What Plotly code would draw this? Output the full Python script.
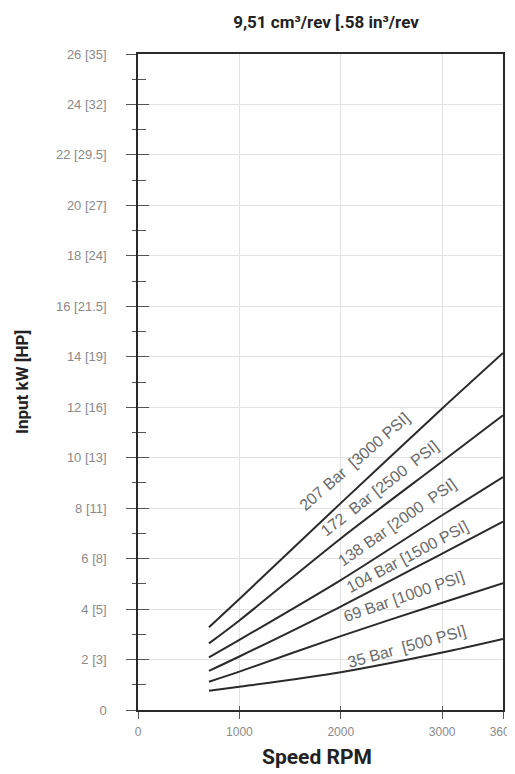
import plotly.graph_objects as go

rpm = [700, 1000, 2000, 3000, 3600]
series_names = ["207 Bar  [3000 PSI]", "172  Bar [2500  PSI]", "138 Bar [2000  PSI]",
                "104 Bar [1500 PSI]", "69 Bar [1000 PSI]", "35 Bar  [500 PSI]"]
kw_207 = [3.28, 4.40, 8.20, 11.95, 14.15]
kw_172 = [2.64, 3.55, 6.80, 9.85, 11.68]
kw_138 = [2.09, 2.78, 5.15, 7.72, 9.23]
kw_104 = [1.55, 2.12, 4.10, 6.20, 7.47]
kw_69 = [1.12, 1.52, 2.93, 4.25, 5.03]
kw_35 = [0.76, 0.92, 1.50, 2.28, 2.82]
series_values = [kw_207, kw_172, kw_138, kw_104, kw_69, kw_35]

# label anchor positions (data units) and angles
label_x = [2138, 2384, 2552, 2660, 2621, 2650]
label_y = [9.83, 8.76, 7.45, 6.07, 4.48, 2.50]
label_angle = [-41, -38, -35, -28, -19, -15.5]

y_tickvals = [0, 2, 4, 6, 8, 10, 12, 14, 16, 18, 20, 22, 24, 26]
y_ticktext = ["0", "2 [3]", "4 [5]", "6 [8]", "8 [11]", "10 [13]", "12 [16]", "14 [19]",
              "16 [21.5]", "18 [24]", "20 [27]", "22 [29.5]", "24 [32]", "26 [35]"]
x_tickvals = [0, 1000, 2000, 3000, 3600]
x_ticktext = ["0", "1000", "2000", "3000", "3600"]

REG = "Liberation Sans, Arial, sans-serif"
BOLD = "Roboto, Liberation Sans, sans-serif"
LINE = "#2a2a2a"
GRID = "#e2e2e2"
TICKC = "#555555"

# page body adds an 8px offset; figure sized to fill the rest of the window
OFF = 8
W, H = 515 - OFF, 774 - OFF
L, R, T, B = 138 - OFF, 12, 54 - OFF, 64
plot_w = W - L - R
plot_h = H - T - B

fig = go.Figure()
for name, vals in zip(series_names, series_values):
    fig.add_trace(go.Scatter(x=rpm, y=vals, mode="lines", name=name,
                             line=dict(color=LINE, width=2, shape="spline", smoothing=0.8),
                             showlegend=False, hoverinfo="skip"))

for name, lx, ly, ang in zip(series_names, label_x, label_y, label_angle):
    fig.add_annotation(x=lx, y=ly, text=name, showarrow=False, textangle=ang,
                       font=dict(family=REG, size=16, color="#6a6a6a"))

fig.add_annotation(xref="paper", yref="paper", x=(22 - OFF - L) / plot_w, y=0.5,
                   text="<b>Input kW [HP]</b>", showarrow=False, textangle=-90,
                   xanchor="center", yanchor="middle",
                   font=dict(family=BOLD, size=17, color="#222222"))
fig.add_annotation(xref="paper", yref="paper", x=(317 - OFF - L) / plot_w,
                   y=-(757 - OFF - (H - B)) / plot_h,
                   text="<b>Speed RPM</b>", showarrow=False,
                   xanchor="center", yanchor="middle",
                   font=dict(family=BOLD, size=21, color="#222222"))

# invisible trace on secondary axes so they render
fig.add_trace(go.Scatter(x=[0], y=[0], xaxis="x2", yaxis="y2", mode="markers",
                         marker=dict(opacity=0), showlegend=False, hoverinfo="skip"))

fig.update_layout(
    width=W, height=H,
    margin=dict(l=L, r=R, t=T, b=B, autoexpand=False),
    paper_bgcolor="white", plot_bgcolor="white",
    font=dict(family=REG, color="#777777"),
    title=dict(text="<b>9,51 cm\u00b3/rev [.58 in\u00b3/rev</b>", xref="container", yref="container",
               x=(326 - OFF) / W, y=1 - (22 - OFF) / H, xanchor="center", yanchor="middle",
               font=dict(family=BOLD, size=17, color="#222222")),
    xaxis=dict(range=[0, 3600], tickvals=x_tickvals, ticktext=x_ticktext,
               showgrid=True, gridcolor=GRID, gridwidth=1, zeroline=False,
               showline=True, linecolor=LINE, linewidth=1.5, mirror=True,
               ticks="outside", ticklen=7, tickcolor=TICKC, tickwidth=1.2,
               tickfont=dict(family=REG, size=12, color="#8a8a8a"),
               ticklabelstandoff=3, ticklabeloverflow="allow", automargin=False),
    yaxis=dict(range=[0, 26], tickvals=y_tickvals, ticktext=y_ticktext,
               showgrid=True, gridcolor=GRID, gridwidth=1, zeroline=False,
               showline=True, linecolor=LINE, linewidth=1.5, mirror=True,
               ticks="outside", ticklen=10, tickcolor=TICKC, tickwidth=1.2,
               minor=dict(dtick=1, ticks="outside", ticklen=4, tickcolor=TICKC, showgrid=False),
               tickfont=dict(family=REG, size=13, color="#8a8a8a"),
               ticklabelstandoff=17, automargin=False),
    xaxis2=dict(range=[0, 3600], overlaying="x", anchor="y2", side="bottom",
                tickvals=x_tickvals, showticklabels=False, showgrid=False, zeroline=False,
                ticks="inside", ticklen=4, tickcolor=TICKC, tickwidth=1.2, showline=False,
                automargin=False),
    yaxis2=dict(range=[0, 26], overlaying="y", anchor="x2", side="left",
                tickvals=y_tickvals, showticklabels=False, showgrid=False, zeroline=False,
                ticks="inside", ticklen=11, tickcolor=TICKC, tickwidth=1.2, showline=False,
                automargin=False,
                minor=dict(dtick=1, ticks="inside", ticklen=8, tickcolor=TICKC, showgrid=False)),
)

fig.write_html("out.html")
